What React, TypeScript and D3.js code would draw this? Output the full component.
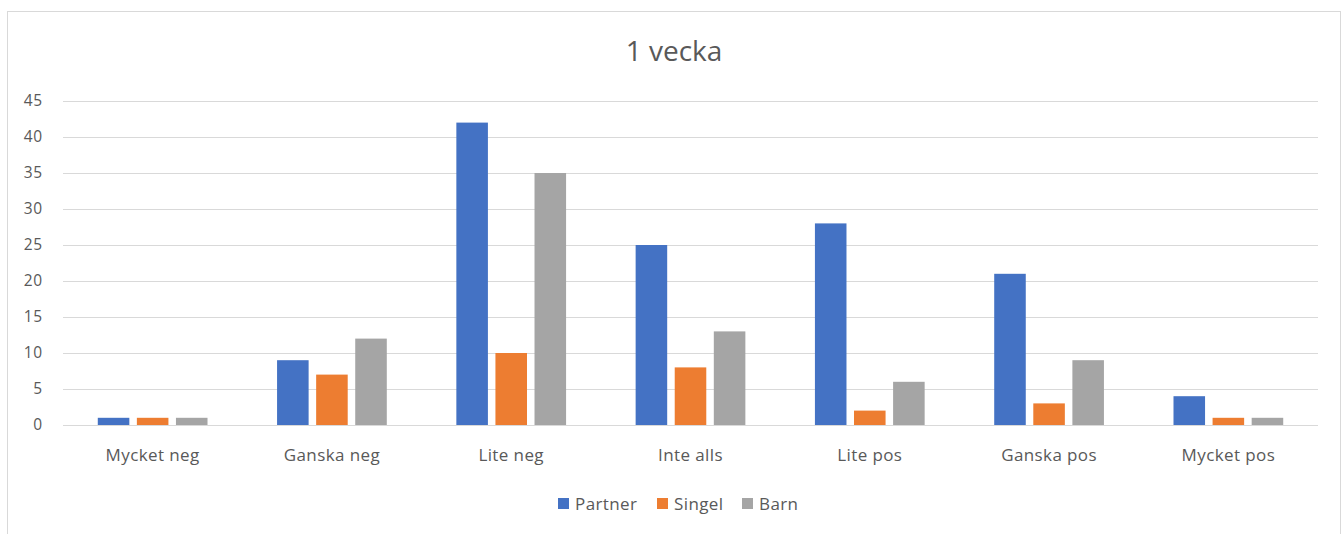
import React, { useEffect, useRef } from "react";
import * as d3 from "d3";

const categories = ["Mycket neg", "Ganska neg", "Lite neg", "Inte alls", "Lite pos", "Ganska pos", "Mycket pos"];
const seriesNames = ["Partner", "Singel", "Barn"];
const partner = [1, 9, 42, 25, 28, 21, 4];
const singel = [1, 7, 10, 8, 2, 3, 1];
const barn = [1, 12, 35, 13, 6, 9, 1];
const colors = ["#4472C4", "#ED7D31", "#A5A5A5"];
const yTicks = [0, 5, 10, 15, 20, 25, 30, 35, 40, 45];
const title = "1 vecka";

const W = 1343;
const H = 534;
const FONT = "Open Sans, sans-serif";

export default function App() {
  const ref = useRef<SVGSVGElement>(null);
  useEffect(() => {
    const svg = d3.select(ref.current);
    svg.selectAll("*").remove();
    const left = 63, right = 1318, top = 101, bottom = 425;
    const series = [partner, singel, barn];

    svg.append("rect").attr("x", 7.5).attr("y", 11.5).attr("width", 1333).attr("height", 540)
      .attr("fill", "#fff").attr("stroke", "#D9D9D9");

    const x = d3.scaleBand<string>().domain(categories).range([left, right]).paddingInner(0).paddingOuter(0);
    const y = d3.scaleLinear().domain([0, 45]).range([bottom, top]);
    const bw = x.bandwidth();
    const barW = bw * 0.176;
    const gap = bw * 0.042;
    const groupW = barW * 3 + gap * 2;
    const xs = d3.scaleBand<number>().domain([0, 1, 2]).range([0, groupW]).paddingInner(gap / (barW + gap));

    const grid = svg.append("g");
    yTicks.forEach(t => {
      grid.append("line").attr("x1", left).attr("x2", right).attr("y1", Math.round(y(t)) + 0.5).attr("y2", Math.round(y(t)) + 0.5)
        .attr("stroke", "#D9D9D9").attr("stroke-width", 1);
      grid.append("text").attr("x", 43).attr("y", y(t)).attr("dy", "0.35em").attr("text-anchor", "end")
        .attr("font-family", FONT).attr("font-size", 15.5).attr("letter-spacing", 0.8).attr("fill", "#595959").text(t);
    });

    series.forEach((vals, si) => {
      svg.append("g").selectAll("rect").data(vals).join("rect")
        .attr("x", (_d, i) => (x(categories[i]) as number) + (bw - groupW) / 2 + (xs(si) as number))
        .attr("width", xs.bandwidth())
        .attr("y", d => y(d))
        .attr("height", d => y(0) - y(d))
        .attr("fill", colors[si]);
    });

    svg.append("g").selectAll("text").data(categories).join("text")
      .attr("x", d => (x(d) as number) + bw / 2).attr("y", 461).attr("text-anchor", "middle")
      .attr("font-family", FONT).attr("font-size", 17).attr("letter-spacing", 0.4).attr("fill", "#595959").text(d => d);

    svg.append("text").attr("x", 674).attr("y", 61).attr("text-anchor", "middle")
      .attr("font-family", FONT).attr("font-size", 28).attr("fill", "#595959").text(title);

    const legendX = [558, 657, 742];
    seriesNames.forEach((n, i) => {
      svg.append("rect").attr("x", legendX[i]).attr("y", 498).attr("width", 11).attr("height", 11).attr("fill", colors[i]);
      svg.append("text").attr("x", legendX[i] + 17).attr("y", 509.5)
        .attr("font-family", FONT).attr("font-size", 17).attr("letter-spacing", 0.4).attr("fill", "#595959").text(n);
    });
  }, []);
  return (
    <svg ref={ref} width={W} height={H} style={{ position: "absolute", left: 0, top: 0, background: "#fff" }} />
  );
}
